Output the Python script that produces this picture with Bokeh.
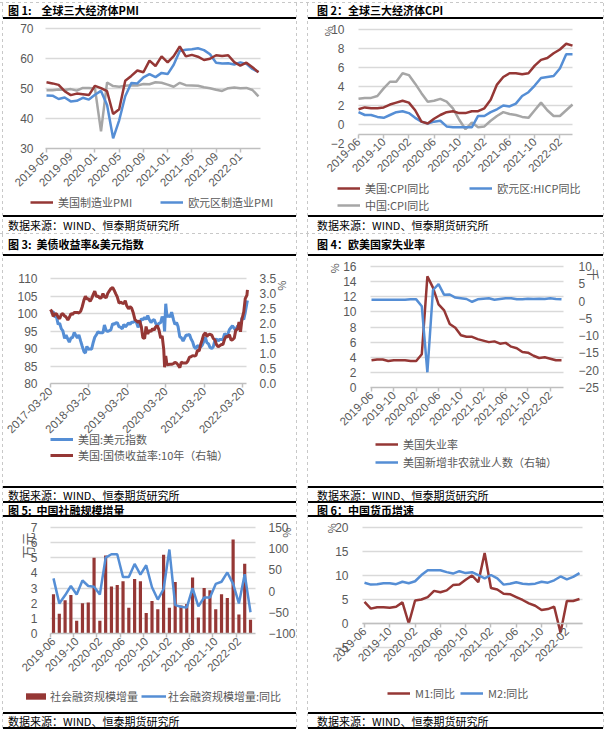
import pandas as pd
from math import pi
from bokeh.plotting import figure
from bokeh.models import (Range1d, LinearAxis, FixedTicker, Legend, LegendItem, Label, Grid,
                          Div, Spacer, NumeralTickFormatter, DatetimeTickFormatter)
from bokeh.layouts import column, row
from bokeh.embed import file_html
from bokeh.resources import INLINE

# ------------------------------------------------------------------ data
# Panel 1: PMI, monthly 2019-05 .. 2022-04
p1_ticklabels = ["2019-05", "2019-09", "2020-01", "2020-05", "2020-09",
                 "2021-01", "2021-05", "2021-09", "2022-01"]
us_pmi = [52.1, 51.7, 51.2, 49.1, 47.8, 48.3, 48.1, 47.8, 50.9, 50.1, 49.1, 41.5,
          43.1, 52.6, 54.2, 56.0, 55.4, 59.3, 57.5, 60.7, 58.7, 60.8, 64.0, 60.7,
          61.2, 60.6, 59.5, 59.9, 61.1, 60.8, 61.1, 58.8, 57.6, 58.6, 57.1, 55.4]
eu_pmi = [47.7, 47.6, 46.5, 47.0, 45.7, 45.9, 46.9, 46.3, 47.9, 49.2, 44.5, 33.4,
          39.4, 47.4, 51.8, 51.7, 53.7, 54.8, 53.8, 55.2, 54.8, 57.9, 62.5, 62.9,
          63.1, 63.4, 62.8, 61.4, 58.6, 58.3, 58.4, 58.0, 58.7, 58.2, 56.5, 55.5]
cn_pmi = [49.4, 49.4, 49.7, 49.5, 49.8, 49.3, 50.2, 50.2, 50.0, 35.7, 52.0, 50.8,
          50.6, 50.9, 51.1, 51.0, 51.5, 51.4, 52.1, 51.9, 51.3, 50.6, 51.9, 51.1,
          51.0, 50.9, 50.4, 50.1, 49.6, 49.2, 50.1, 50.3, 50.1, 50.2, 49.5, 47.4]

# Panels 2,4,5,6: monthly 2019-06 .. 2022-04
m_ticklabels = ["2019-06", "2019-10", "2020-02", "2020-06", "2020-10",
                "2021-02", "2021-06", "2021-10", "2022-02"]
us_cpi = [1.6, 1.8, 1.7, 1.7, 1.8, 2.1, 2.3, 2.5, 2.3, 1.5, 0.3, 0.1, 0.6, 1.0, 1.3,
          1.4, 1.2, 1.2, 1.4, 1.4, 1.7, 2.6, 4.2, 5.0, 5.4, 5.4, 5.3, 5.4, 6.2, 6.8,
          7.0, 7.5, 7.9, 8.5, 8.3]
eu_hicp = [1.3, 1.0, 1.0, 0.8, 0.7, 1.0, 1.3, 1.4, 1.2, 0.7, 0.3, 0.1, 0.3, 0.4, -0.2,
           -0.3, -0.3, -0.3, -0.3, 0.9, 0.9, 1.3, 1.6, 2.0, 1.9, 2.2, 3.0, 3.4, 4.1,
           4.9, 5.0, 5.1, 5.9, 7.4, 7.4]
cn_cpi = [2.7, 2.8, 2.8, 3.0, 3.8, 4.5, 4.5, 5.4, 5.2, 4.3, 3.3, 2.4, 2.5, 2.7, 2.4,
          1.7, 0.5, -0.5, 0.2, -0.3, -0.2, 0.4, 0.9, 1.3, 1.1, 1.0, 0.8, 0.7, 1.5,
          2.3, 1.5, 0.9, 0.9, 1.5, 2.1]

us_unemp = [3.6, 3.7, 3.7, 3.5, 3.6, 3.6, 3.6, 3.5, 3.5, 4.4, 14.7, 13.2, 11.0, 10.2,
            8.4, 7.9, 6.9, 6.7, 6.7, 6.4, 6.2, 6.0, 6.1, 5.8, 5.9, 5.4, 5.2, 4.7, 4.6,
            4.2, 3.9, 4.0, 3.8, 3.6, 3.6]
us_nfp = [0.4, 0.4, 0.4, 0.4, 0.4, 0.4, 0.4, 0.5, 0.5, -1.5, -20.6, 3.2, 4.9, 1.8,
          1.9, 1.0, 0.8, 0.6, -0.2, 0.5, 0.7, 0.8, 0.4, 0.6, 0.8, 0.8, 0.5, 0.5, 0.7,
          0.6, 0.7, 0.6, 0.8, 0.6, 0.5]

tsf = [2.6, 1.3, 2.2, 2.55, 0.85, 2.0, 2.05, 5.0, 0.85, 5.15, 3.1, 3.2, 3.45, 1.7,
       3.6, 3.45, 1.35, 2.15, 1.6, 5.2, 1.7, 3.4, 1.85, 1.95, 3.7, 1.05, 3.0, 2.85,
       1.6, 2.6, 2.35, 6.2, 1.25, 4.6, 0.9]
tsf_yoy = [30, -29, -10, 12, -8, 25, 12, 10, -8, 79, 87, 87, 33, 33, 64, 39, 61, 9,
           -20, 5, 98, -33, -37, -39, 7, -36, -15, -15, 17, 22, 44, 17, -29, 40, -50]

m1 = [4.5, 3.1, 3.4, 3.4, 3.3, 3.5, 4.4, 0.0, 4.8, 5.0, 5.5, 6.8, 6.5, 6.9, 8.0, 8.1,
      9.1, 10.0, 8.6, 14.7, 7.4, 7.1, 6.2, 6.1, 5.5, 4.9, 4.2, 3.7, 2.8, 3.0, 3.5,
      -1.9, 4.7, 4.7, 5.1]
m2 = [8.5, 8.1, 8.2, 8.4, 8.4, 8.2, 8.7, 8.4, 8.8, 10.1, 11.1, 11.1, 11.1, 10.7, 10.4,
      10.9, 10.5, 10.7, 10.1, 9.4, 10.1, 9.4, 8.1, 8.3, 8.6, 8.3, 8.2, 8.3, 8.7, 8.5,
      9.0, 9.8, 9.2, 9.7, 10.5]

# Panel 3: dollar index & US 10Y yield (semi-monthly readings)
p3_ticklabels = ["2017-03-20", "2018-03-20", "2019-03-20", "2020-03-20",
                 "2021-03-20", "2022-03-20"]
p3_dates = [
    "2017-03-20", "2017-04-01", "2017-04-15", "2017-05-01", "2017-05-15", "2017-06-01",
    "2017-06-15", "2017-07-01", "2017-07-15", "2017-08-01", "2017-08-15", "2017-09-01",
    "2017-09-15", "2017-10-01", "2017-10-15", "2017-11-01", "2017-11-15", "2017-12-01",
    "2017-12-15", "2018-01-01", "2018-01-15", "2018-02-01", "2018-02-15", "2018-03-01",
    "2018-03-15", "2018-04-01", "2018-04-15", "2018-05-01", "2018-05-15", "2018-06-01",
    "2018-06-15", "2018-07-01", "2018-07-15", "2018-08-01", "2018-08-15", "2018-09-01",
    "2018-09-15", "2018-10-01", "2018-10-15", "2018-11-01", "2018-11-15", "2018-12-01",
    "2018-12-15", "2019-01-01", "2019-01-15", "2019-02-01", "2019-02-15", "2019-03-01",
    "2019-03-15", "2019-04-01", "2019-04-15", "2019-05-01", "2019-05-15", "2019-06-01",
    "2019-06-15", "2019-07-01", "2019-07-15", "2019-08-01", "2019-08-15", "2019-09-01",
    "2019-09-15", "2019-10-01", "2019-10-15", "2019-11-01", "2019-11-15", "2019-12-01",
    "2019-12-15", "2020-01-01", "2020-01-15", "2020-02-01", "2020-02-15", "2020-03-01",
    "2020-03-09", "2020-03-20", "2020-04-01", "2020-04-15", "2020-05-01", "2020-05-15",
    "2020-06-01", "2020-06-15", "2020-07-01", "2020-07-15", "2020-08-01", "2020-08-15",
    "2020-09-01", "2020-09-15", "2020-10-01", "2020-10-15", "2020-11-01", "2020-11-15",
    "2020-12-01", "2020-12-15", "2021-01-01", "2021-01-15", "2021-02-01", "2021-02-15",
    "2021-03-01", "2021-03-15", "2021-04-01", "2021-04-15", "2021-05-01", "2021-05-15",
    "2021-06-01", "2021-06-15", "2021-07-01", "2021-07-15", "2021-08-01", "2021-08-15",
    "2021-09-01", "2021-09-15", "2021-10-01", "2021-10-15", "2021-11-01", "2021-11-15",
    "2021-12-01", "2021-12-15", "2022-01-01", "2022-01-15", "2022-02-01", "2022-02-15",
    "2022-03-01", "2022-03-15", "2022-04-01", "2022-04-15", "2022-05-01", "2022-05-06"]
dxy = [100.3, 100.4, 100.5, 99.0, 99.2, 96.9, 97.2, 95.6, 95.1, 92.9, 93.8, 92.7,
       91.8, 93.1, 93.1, 94.6, 93.8, 93.0, 93.9, 92.1, 90.7, 89.1, 88.7, 90.6,
       89.8, 89.9, 89.8, 91.8, 93.2, 94.0, 94.8, 94.5, 94.5, 94.5, 96.7, 95.1,
       94.9, 95.1, 95.3, 97.1, 96.9, 97.3, 97.4, 96.2, 96.1, 95.6, 96.9, 96.2,
       96.6, 97.3, 96.9, 97.5, 97.5, 97.8, 97.5, 96.1, 96.8, 98.5, 98.2, 98.9,
       98.3, 99.4, 98.3, 97.4, 98.0, 98.3, 97.2, 96.4, 97.2, 97.4, 99.1, 98.1,
       94.9, 102.8, 99.0, 99.5, 99.0, 100.4, 98.3, 96.9, 97.4, 96.3, 93.3, 93.1,
       92.1, 93.0, 93.9, 93.8, 94.0, 92.8, 91.9, 90.5, 89.9, 90.8, 90.6, 90.4,
       90.9, 91.9, 93.2, 91.7, 91.3, 90.3, 90.0, 90.5, 92.4, 92.7, 92.2, 92.6,
       92.6, 92.6, 94.2, 93.9, 94.1, 95.4, 96.0, 96.5, 95.7, 95.2, 96.5, 96.0,
       96.7, 98.8, 98.3, 100.3, 103.0, 103.7]
us10y = [2.47, 2.40, 2.24, 2.32, 2.33, 2.21, 2.16, 2.30, 2.33, 2.25, 2.22, 2.12,
         2.20, 2.33, 2.30, 2.37, 2.37, 2.37, 2.35, 2.41, 2.55, 2.78, 2.91, 2.81,
         2.83, 2.74, 2.83, 2.97, 3.08, 2.89, 2.92, 2.85, 2.85, 3.00, 2.89, 2.86,
         3.00, 3.09, 3.16, 3.20, 3.11, 2.99, 2.89, 2.68, 2.71, 2.68, 2.66, 2.76,
         2.59, 2.49, 2.56, 2.51, 2.37, 2.13, 2.09, 2.03, 2.09, 1.89, 1.53, 1.50,
         1.90, 1.65, 1.77, 1.73, 1.83, 1.78, 1.89, 1.92, 1.79, 1.51, 1.59, 1.13,
         0.54, 0.92, 0.62, 0.63, 0.64, 0.64, 0.66, 0.71, 0.68, 0.62, 0.53, 0.71,
         0.68, 0.68, 0.68, 0.74, 0.88, 0.89, 0.93, 0.92, 0.93, 1.10, 1.09, 1.30,
         1.45, 1.62, 1.69, 1.57, 1.63, 1.64, 1.61, 1.50, 1.45, 1.30, 1.22, 1.26,
         1.30, 1.30, 1.48, 1.57, 1.56, 1.63, 1.45, 1.46, 1.52, 1.78, 1.81, 2.05,
         1.72, 2.15, 2.39, 2.83, 2.94, 3.12]

titles = ["图 1:&nbsp;&nbsp;&nbsp;&nbsp;全球三大经济体PMI", "图 2：全球三大经济体CPI",
          "图 3:&nbsp;&nbsp;美债收益率&amp;美元指数", "图 4：欧美国家失业率",
          "图 5:&nbsp;&nbsp;中国社融规模增量", "图 6：中国货币增速"]
source_text = "数据来源：WIND、恒泰期货研究所"

# ------------------------------------------------------------------ style
RED = "#953735"
BLUE = "#558ED5"
GRAY = "#A6A6A6"
GRID = "#D9D9D9"
AXC = "#BFBFBF"
TXT = "#595959"
CJK = "Noto Sans CJK SC"
NUM = "Liberation Sans"
WA, WB = 293, 295
HAS_CB = "cross_bounds" in Grid.properties()


def lin(v0, p0, v1, p1):
    """map a page pixel to a value, given two (value, pixel) pairs"""
    k = (v1 - v0) / (p1 - p0)
    return lambda p: v0 + (p - p0) * k


class Panel:
    def __init__(self, box, xmap, ymap, x_axis_type="linear"):
        X0, Y0, W, H = box
        self.box = box
        self.fx = lin(*xmap)
        self.fy = lin(*ymap)
        self.p = figure(width=W, height=H, x_axis_type=x_axis_type,
                        x_range=Range1d(self.fx(X0), self.fx(X0 + W)),
                        y_range=Range1d(self.fy(Y0 + H), self.fy(Y0)),
                        output_backend="svg", toolbar_location=None, min_border=0,
                        min_border_left=0, min_border_right=0, min_border_top=0,
                        min_border_bottom=0)
        p = self.p
        p.outline_line_color = None
        p.xgrid.grid_line_color = None
        p.ygrid.grid_line_color = None

    def range_r(self, ymap):
        X0, Y0, W, H = self.box
        f = lin(*ymap)
        self.p.extra_y_ranges = {"r": Range1d(f(Y0 + H), f(Y0))}
        self.fr = f

    def grid(self, ticks, px0, px1):
        p = self.p
        x0, x1 = self.fx(px0), self.fx(px1)
        g = p.ygrid[0]
        if HAS_CB:
            g.ticker = FixedTicker(ticks=ticks)
            g.grid_line_color = GRID
            g.grid_line_width = 1.5
            g.cross_bounds = (x0, x1)
        else:
            p.segment(x0=[x0] * len(ticks), x1=[x1] * len(ticks), y0=ticks, y1=ticks,
                      line_color=GRID, line_width=1.5, level="underlay")

    def yaxis(self, ticks, px, standoff, fmt=None):
        ax = self.p.yaxis[0]
        style_y(ax, ticks, standoff, fmt)
        ax.fixed_location = self.fx(px)

    def yaxis_r(self, ticks, px, standoff, fmt=None):
        ax = LinearAxis(y_range_name="r")
        self.p.add_layout(ax, "right")
        style_y(ax, ticks, standoff, fmt)
        ax.fixed_location = self.fx(px)

    def xaxis(self, ticks, labels, at, px0, px1, minor=None):
        ax = self.p.xaxis[0]
        style_x(ax, ticks, labels, minor)
        ax.fixed_location = at
        ax.bounds = (self.fx(px0), self.fx(px1))
        return ax

    def legend(self, items, px_left, py_bottom, **kw):
        X0, Y0, W, H = self.box
        add_legend(self.p, items, px_left - X0, (Y0 + H) - py_bottom, **kw)

    def label(self, text, px, py, angle=pi / 2, size="11px"):
        self.p.add_layout(Label(x=self.fx(px), y=self.fy(py), text=text, angle=angle,
                                text_align="center", text_baseline="middle",
                                text_color=TXT, text_font=CJK, text_font_size=size))


def style_y(ax, ticks, standoff, fmt=None):
    ax.ticker = FixedTicker(ticks=ticks)
    ax.axis_line_color = None
    ax.major_tick_line_color = None
    ax.minor_tick_line_color = None
    ax.major_label_text_color = TXT
    ax.major_label_text_font = NUM
    ax.major_label_text_font_size = "12px"
    ax.major_label_standoff = standoff
    if fmt:
        ax.formatter = NumeralTickFormatter(format=fmt)


def style_x(ax, ticks, labels=None, minor=None):
    ax.ticker = FixedTicker(ticks=ticks, minor_ticks=minor or [])
    if labels is not None:
        ax.major_label_overrides = {t: s for t, s in zip(ticks, labels)}
    ax.axis_line_color = AXC
    ax.axis_line_width = 1.5
    ax.major_tick_line_color = AXC if minor is None else None
    ax.major_tick_line_width = 1.5
    ax.major_tick_in = 0
    ax.major_tick_out = 4
    ax.minor_tick_line_color = AXC if minor else None
    ax.minor_tick_line_width = 1.5
    ax.minor_tick_in = 0
    ax.minor_tick_out = 4
    ax.major_label_orientation = pi / 4
    ax.major_label_text_color = TXT
    ax.major_label_text_font = NUM
    ax.major_label_text_font_size = "11.5px"
    ax.major_label_standoff = 2


def add_legend(p, items, x, y, orientation="horizontal", spacing=20,
               gw=23, gh=12, standoff=5):
    lg = Legend(items=items, location=(x, y), orientation=orientation, spacing=spacing,
                padding=0, margin=0, border_line_color=None, background_fill_alpha=0,
                label_text_font=CJK, label_text_font_size="11px", label_text_color=TXT,
                glyph_width=gw, glyph_height=gh, label_height=12, label_standoff=standoff)
    p.add_layout(lg)


idx35 = list(range(35))
mticks = [0, 4, 8, 12, 16, 20, 24, 28, 32]

# ---------------- panel 1  (figure page box x 3..296, y 19..215)
P1 = Panel((3, 19, WA, 196), (0, 46, 35, 258), (70, 28, 30, 148))
P1.grid([40, 50, 60, 70], 45, 260)
P1.yaxis([30, 40, 50, 60, 70], 45, 6)
P1.xaxis(mticks, p1_ticklabels, 30, 45, 260)
x1 = list(range(36))
r1g = P1.p.line(x1, cn_pmi, line_color=GRAY, line_width=2.5)
r1b = P1.p.line(x1, eu_pmi, line_color=BLUE, line_width=2.5)
r1r = P1.p.line(x1, us_pmi, line_color=RED, line_width=2.5)
P1.legend([LegendItem(label="美国制造业PMI", renderers=[r1r]),
           LegendItem(label="欧元区制造业PMI", renderers=[r1b])], 30, 210, spacing=28)

# ---------------- panel 2  (x 308..603, y 19..215)
P2 = Panel((308, 19, WB, 196), (0, 358, 34, 572), (10, 29, -2, 143))
P2.grid([0, 2, 4, 6, 8, 10], 358, 572)
P2.yaxis([-2, 0, 2, 4, 6, 8, 10], 358, 8)
P2.xaxis(mticks, m_ticklabels, -1, 358, 572)
r2g = P2.p.line(idx35, cn_cpi, line_color=GRAY, line_width=2.5)
r2b = P2.p.line(idx35, eu_hicp, line_color=BLUE, line_width=2.5)
r2r = P2.p.line(idx35, us_cpi, line_color=RED, line_width=2.5)
P2.legend([LegendItem(label="美国:CPI同比", renderers=[r2r]),
           LegendItem(label="欧元区:HICP同比", renderers=[r2b])], 337, 196, spacing=40)
P2.legend([LegendItem(label="中国:CPI同比", renderers=[r2g])], 337, 213)
P2.label("%", 327, 31)

# ---------------- panel 3  (x 3..296, y 256..486)
ms = lambda s: pd.Timestamp(s).value / 10**6
P3 = Panel((3, 256, WA, 230), (ms("2017-03-20"), 50, ms("2022-03-20"), 242),
           (110, 278, 80, 383), x_axis_type="datetime")
P3.range_r((3.5, 278, 0, 383))
P3.grid([85, 90, 95, 100, 105, 110], 50, 246)
P3.yaxis([80, 85, 90, 95, 100, 105, 110], 50, 7)
P3.yaxis_r([0, 0.5, 1, 1.5, 2, 2.5, 3, 3.5], 246, 7, fmt="0.0")
ax3 = P3.xaxis([ms(s) for s in p3_ticklabels], None, 80, 50, 246)
ax3.formatter = DatetimeTickFormatter(days="%Y-%m-%d", months="%Y-%m-%d",
                                      years="%Y-%m-%d")
d3 = pd.to_datetime(p3_dates)
r3b = P3.p.line(d3, dxy, line_color=BLUE, line_width=3)
r3r = P3.p.line(d3, us10y, line_color=RED, line_width=3, y_range_name="r")
P3.legend([LegendItem(label="美国:美元指数", renderers=[r3b]),
           LegendItem(label="美国:国债收益率:10年（右轴）", renderers=[r3r])], 50, 463,
          orientation="vertical", spacing=0)
P3.label("%", 282, 285, angle=-pi / 2)

# ---------------- panel 4  (x 308..603, y 256..486)
P4 = Panel((308, 256, WB, 230), (0, 371, 34, 561), (16, 266, 0, 387))
P4.range_r((10, 266, -25, 387))
P4.grid([2, 4, 6, 8, 10, 12, 14, 16], 370, 563)
P4.yaxis([0, 2, 4, 6, 8, 10, 12, 14, 16], 370, 8)
P4.yaxis_r([-25, -20, -15, -10, -5, 0, 5, 10], 563, 9)
P4.xaxis(mticks, m_ticklabels, 0, 370, 563)
r4r = P4.p.line(idx35, us_unemp, line_color=RED, line_width=2.5)
r4b = P4.p.line(idx35, us_nfp, line_color=BLUE, line_width=2.5, y_range_name="r")
P4.legend([LegendItem(label="美国失业率", renderers=[r4r]),
           LegendItem(label="美国新增非农就业人数（右轴）", renderers=[r4b])], 375, 470,
          orientation="vertical", spacing=2)
P4.label("%", 333, 268)
P4.label("千", 593, 274, angle=-pi / 2, size="12px")

# ---------------- panel 5  (x 3..296, y 517..712)
P5 = Panel((3, 517, WA, 195), (0, 53, 34, 250), (7, 527, 0, 633))
P5.range_r((150, 527, -100, 633))
P5.grid([1, 2, 3, 4, 5, 6, 7], 50, 255)
P5.yaxis([0, 1, 2, 3, 4, 5, 6, 7], 50, 7)
P5.yaxis_r([-100, -50, 0, 50, 100, 150], 255, 7)
P5.xaxis(mticks, m_ticklabels, 0, 50, 255, minor=[t - 0.5 for t in mticks])
r5bar = P5.p.vbar(x=idx35, top=tsf, width=0.55, fill_color=RED, line_color=None)
r5l = P5.p.line(idx35, tsf_yoy, line_color=BLUE, line_width=2.5, y_range_name="r")
P5.legend([LegendItem(label="社会融资规模增量", renderers=[r5bar]),
           LegendItem(label="社会融资规模增量:同比", renderers=[r5l])], 23, 704,
          spacing=3, gw=25, gh=8, standoff=2)
P5.label("万元", 27, 545, size="13px")
P5.label("%", 287, 532, angle=-pi / 2)

# ---------------- panel 6  (x 308..603, y 517..712)
P6 = Panel((308, 517, WB, 195), (0, 364, 34, 579), (20, 527, -5, 647))
P6.grid([-5, 0, 5, 10, 15, 20], 362, 582)
P6.yaxis([-5, 0, 5, 10, 15, 20], 362, 8)
P6.xaxis(mticks, m_ticklabels, 0, 362, 582)
r6r = P6.p.line(idx35, m1, line_color=RED, line_width=2.5)
r6b = P6.p.line(idx35, m2, line_color=BLUE, line_width=2.5)
P6.legend([LegendItem(label="M1:同比", renderers=[r6r]),
           LegendItem(label="M2:同比", renderers=[r6b])], 387, 701, spacing=5)
P6.label("%", 330, 528)


# ------------------------------------------------------------------ layout
def tdiv(html, w, h, size, bold, pad):
    st = (f"width:{w}px;height:{h}px;display:flex;align-items:center;"
          f"font-family:'{CJK}';font-size:{size}px;line-height:1;"
          f"font-weight:{'bold' if bold else 'normal'};color:#000;"
          f"white-space:nowrap;overflow:visible;padding-left:{pad}px;box-sizing:border-box;")
    return Div(text=f'<div style="{st}">{html}</div>', width=w, height=h, margin=0)


def hline(w, h=2):
    return Div(text="", width=w, height=h, margin=0, styles={"background-color": "#000000"})


DASH_V = ("repeating-linear-gradient(to bottom, #C8C8C8 0px, #C8C8C8 3px, "
          "transparent 3px, transparent 6px)")
DASH_H = ("repeating-linear-gradient(to right, #C8C8C8 0px, #C8C8C8 3px, "
          "transparent 3px, transparent 6px)")


def vdash(h):
    return Div(text="", width=1, height=h, margin=0, styles={"background-image": DASH_V})


def hdash(w):
    return Div(text="", width=w, height=1, margin=0, styles={"background-image": DASH_H})


def cell(w, title, th, fig, sh, pad, bottom_line):
    kids = [tdiv(title, w, th, 11, True, pad), hline(w), fig, hline(w),
            tdiv(source_text, w, sh, 11, False, pad)]
    if bottom_line:
        kids.append(hline(w))
    return column(kids, spacing=0)


def grid_row(a, b, h):
    return row([Spacer(width=2, height=h), vdash(h), a, vdash(h), Spacer(width=10, height=h),
                vdash(h), b, vdash(h)], spacing=0)


row1 = grid_row(cell(WA, titles[0], 14, P1.p, 16, 5, False),
                cell(WB, titles[1], 14, P2.p, 16, 9, False), 230)
row2 = grid_row(cell(WA, titles[2], 20, P3.p, 13, 5, True),
                cell(WB, titles[3], 20, P4.p, 13, 9, True), 269)
row3 = grid_row(cell(WA, titles[4], 12, P5.p, 13, 5, True),
                cell(WB, titles[5], 12, P6.p, 13, 9, True), 226)

page = column([Spacer(width=604, height=2), hdash(604), row1, hdash(604), row2, row3],
              spacing=0)

open("out.html", "w").write(file_html(page, INLINE))
